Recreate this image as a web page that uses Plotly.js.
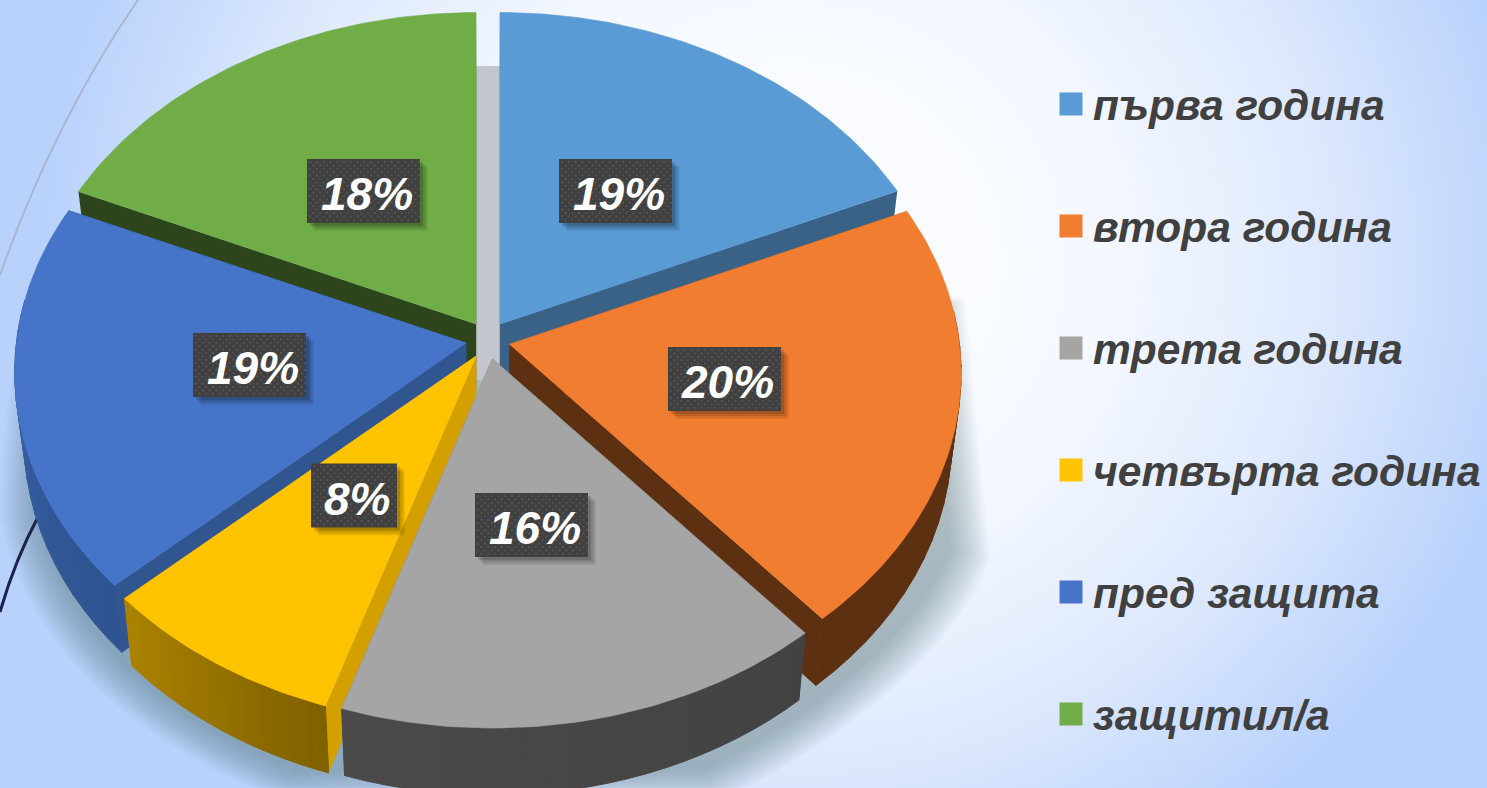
<!DOCTYPE html>
<html>
<head>
<meta charset="utf-8">
<script src="https://cdn.plot.ly/plotly-3.0.1.min.js"></script>
<style>
html,body{margin:0;padding:0;width:1487px;height:788px;overflow:hidden;
background:radial-gradient(ellipse 745px 700px at 790px 260px,#ffffff 0%,#f4f8ff 42%,#e0eafd 70%,#b9d2fc 100%);}
</style>
</head>
<body>
<div id="chart" style="width:1487px;height:788px"></div>
<script>
// ---- data ----
const categories = ["първа година","втора година","трета година","четвърта година","пред защита","защитил/а"];
const values = [19,20,16,8,19,18];            // printed percentages
const sliceSizes = [18.33,20.4,16.25,8.2,18.47,18.35]; // slice sizes
const topColors = ["#5b9bd5","#f07d30","#a5a5a5","#ffc300","#4674c8","#70ad47"];
const edgeColors = ["#3a6186","#5e3012","#3f3f3f","#d4a000","#30558f","#2d451c"];
const wallFrom = ["#3a6186","#5e3012","#4a4a4a","#ac8300","#3c66ad","#2d451c"];
const wallTo = ["#3a6186","#5e3012","#424242","#7f6000","#2e5390","#2d451c"];
const labelX = [615.5,724.5,531.5,354,249.5,363.5];
const labelY = [191,379,525,495.5,365,191];
const drawOrder = [5,0,4,1,3,2];

// ---- projection of the tilted pie ----
const cx=488, cy=340, A=450, B=338, P=0.085, depth=67, shrink=0.98, pullX=22, pullY=19;
const rad=d=>d*Math.PI/180;
function rim(t){const w=1+P*Math.cos(rad(t));return [A*Math.sin(rad(t))/w,-B*Math.cos(rad(t))/w];}
const total=sliceSizes.reduce((a,b)=>a+b,0);
let acc=0;
const slices=sliceSizes.map(v=>{const s=acc;acc+=v;return{s:s/total*360,e:acc/total*360};});
function low(p){return [cx+(p[0]-cx)*shrink,p[1]+depth];}
function hexMix(a,b,f){const h=c=>[1,3,5].map(i=>parseInt(c.substr(i,2),16));const x=h(a),y=h(b);
  return 'rgb('+x.map((q,i)=>Math.round(q+(y[i]-q)*f)).join(',')+')';}
const traces=[];
function poly(pts,color,lw){
  traces.push({type:'scatter',mode:lw?'lines':'none',x:pts.map(p=>p[0]).concat(pts[0][0]),y:pts.map(p=>p[1]).concat(pts[0][1]),
    fill:'toself',fillcolor:color,line:{color:color,width:lw||0},hoverinfo:'skip',showlegend:false});
}
drawOrder.forEach(i=>{
  const sl=slices[i],mid=(sl.s+sl.e)/2;
  const ax=cx+pullX*Math.sin(rad(mid)),ay=cy-pullY*Math.cos(rad(mid));
  const pt=t=>{const r=rim(t);return [ax+r[0],ay+r[1]];};
  const apex=[ax,ay];
  // radial walls
  [sl.s,sl.e].forEach(t=>{const p=pt(t);poly([apex,p,low(p),low(apex)],edgeColors[i],0);});
  // outer wall, in strips for the shading; the far side of the rim never shows
  const n=24;
  for(let k=0;k<n;k++){
    const t0=sl.s+(sl.e-sl.s)*k/n,t1=sl.s+(sl.e-sl.s)*(k+1)/n,top=[],bot=[];
    if(Math.cos(rad((t0+t1)/2))>0.12)continue;
    for(let j=0;j<=3;j++){const p=pt(t0+(t1-t0)*j/3);top.push(p);bot.unshift(low(p));}
    poly(top.concat(bot),hexMix(wallTo[i],wallFrom[i],(k+0.5)/n),1);
  }
  // top face
  const face=[apex];
  for(let t=sl.s;t<sl.e;t+=1)face.push(pt(t));
  face.push(pt(sl.e));
  poly(face,topColors[i],0.6);
});

// ---- data label boxes ----
const dotsX=[],dotsY=[];
values.forEach((v,i)=>{
  const w=v<10?86:113,h=64,l=labelX[i]-w/2,r=labelX[i]+w/2,t=labelY[i]-h/2,b=labelY[i]+h/2;
  [[8,'rgba(0,0,0,0.05)'],[7,'rgba(0,0,0,0.07)'],[5,'rgba(0,0,0,0.10)'],[3,'rgba(0,0,0,0.14)']].forEach(s=>{
    poly([[l+s[0],t+s[0]],[r+s[0],t+s[0]],[r+s[0],b+s[0]],[l+s[0],b+s[0]]],s[1],0);
  });
  poly([[l,t],[r,t],[r,b],[l,b]],'#404040',0);
  let row=0;
  for(let y=t+3;y<b-1;y+=3.4){row++;
    for(let x=l+3+(row%2?0:3.4);x<r-1;x+=6.8){dotsX.push(x);dotsY.push(y);}
  }
});
traces.push({type:'scatter',mode:'markers',x:dotsX,y:dotsY,marker:{symbol:'square',size:1.8,color:'#575757'},hoverinfo:'skip',showlegend:false});

// ---- legend ----
const legendX=1071, legendTextX=1091, legendTop=105, legendStep=122;
traces.push({type:'scatter',mode:'markers',x:categories.map(()=>legendX),y:categories.map((c,i)=>legendTop+i*legendStep-1),
  marker:{symbol:'square',size:23,color:topColors,line:{width:0}},hoverinfo:'skip',showlegend:false});

const annotations=values.map((v,i)=>({xref:'x',yref:'y',x:labelX[i]+3,y:labelY[i]+3,text:v+'%',showarrow:false,
  font:{family:'Liberation Sans',size:46,color:'#ffffff',weight:'bold',style:'italic'}}))
.concat(categories.map((c,i)=>({xref:'x',yref:'y',x:legendTextX,y:legendTop+i*legendStep,xanchor:'left',text:c,showarrow:false,
  font:{family:'Liberation Sans',size:42.5,color:'#404040',weight:'bold',style:'italic'}})));

// ---- soft floor shadow and background curves ----
const shadowPath=[[480,200],[40,260],[15,320],[0,440],[0,520],[20,620],[100,730],[280,800],[720,800],[830,750],[950,660],[990,560],[965,300]];
function shadowShape(sc){
  const q=shadowPath.map(p=>[480+(p[0]-480)*sc,420+(p[1]-420)*sc].map(v=>v.toFixed(1)).join(' '));
  const d='M'+q[0]+' L'+q[1]+' C'+q[2]+' '+q[3]+' '+q[4]+' C'+q[5]+' '+q[6]+' '+q[7]+' L'+q[8]+' C'+q[9]+' '+q[10]+' '+q[11]+' L'+q[12]+' Z';
  return {type:'path',path:d,layer:'below',xref:'x',yref:'y',fillcolor:'rgba(90,100,125,0.028)',line:{width:0}};
}
const shapes=Array.from({length:18},(_,k)=>shadowShape(1-k*0.0045));
shapes.push({type:'rect',layer:'below',xref:'x',yref:'y',x0:470,x1:506,y0:66,y1:380,fillcolor:'#c3c6cd',line:{width:0}});
shapes.push({type:'path',layer:'below',xref:'x',yref:'y',path:'M138 0 Q55 120 0 275',line:{color:'#a8b6d0',width:2}});
shapes.push({type:'path',layer:'below',xref:'x',yref:'y',path:'M38 517 Q15 560 0 612',line:{color:'#1b2150',width:3}});

Plotly.newPlot('chart',traces,{
  width:1487,height:788,margin:{l:0,r:0,t:0,b:0,pad:0},
  paper_bgcolor:'rgba(0,0,0,0)',plot_bgcolor:'rgba(0,0,0,0)',showlegend:false,
  xaxis:{range:[0,1487],visible:false,fixedrange:true},
  yaxis:{range:[788,0],visible:false,fixedrange:true},
  shapes:shapes,annotations:annotations
},{displayModeBar:false,staticPlot:true});
</script>
</body>
</html>
